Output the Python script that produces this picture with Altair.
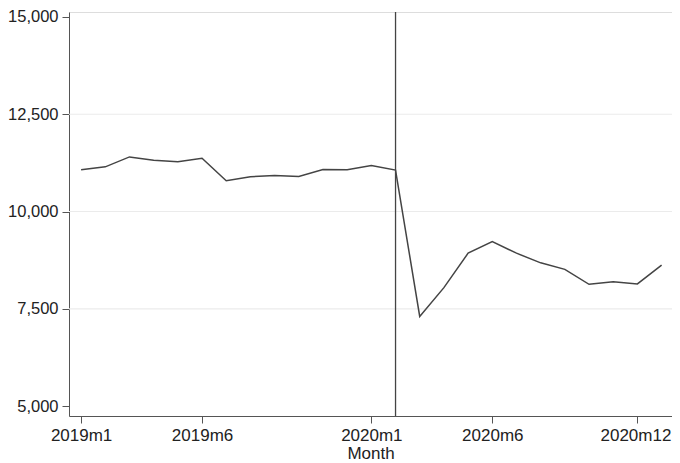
import altair as alt
import pandas as pd

months = ["2019m1", "2019m2", "2019m3", "2019m4", "2019m5", "2019m6", "2019m7",
          "2019m8", "2019m9", "2019m10", "2019m11", "2019m12", "2020m1", "2020m2",
          "2020m3", "2020m4", "2020m5", "2020m6", "2020m7", "2020m8", "2020m9",
          "2020m10", "2020m11", "2020m12", "2021m1"]
values = [11071, 11148, 11403, 11319, 11276, 11370, 10791, 10893, 10926, 10901,
          11079, 11071, 11181, 11064, 7304, 8043, 8929, 9227, 8929, 8681, 8513,
          8130, 8196, 8138, 8622]
tick_index = [0, 5, 12, 17, 23]
tick_labels = ["2019m1", "2019m6", "2020m1", "2020m6", "2020m12"]
y_ticks = [5000, 7500, 10000, 12500, 15000]
grid_values = [7500, 10000, 12500]
event_index = [13]

df = pd.DataFrame({"idx": list(range(len(months))), "month": months, "value": values})
grid_df = pd.DataFrame({"y": grid_values})
event_df = pd.DataFrame({"x": event_index})

label_map = "{" + ",".join(f'"{i}":"{l}"' for i, l in zip(tick_index, tick_labels)) + "}"

xscale = alt.Scale(domain=[-0.5, 24.43], nice=False, zero=False)
yscale = alt.Scale(domain=[4744, 15128], nice=False, zero=False)

FONT = "Liberation Sans"

xaxis = alt.Axis(values=tick_index, labelExpr=f"{label_map}[datum.value]",
                 title="Month", grid=False, tickSize=7, labelPadding=4,
                 labelFontSize=17, titleFontSize=17, labelFont=FONT, titleFont=FONT,
                 titleFontWeight="normal", labelColor="#222222", titleColor="#222222",
                 domainColor="#555555", tickColor="#555555", titlePadding=2,
                 labelFlush=False, labelBound=False,
                 labelOffset=alt.condition("datum.value == 23", alt.value(-2), alt.value(0)))
yaxis = alt.Axis(values=y_ticks, format=",d", title=None, grid=False, tickSize=7,
                 labelPadding=4, labelFontSize=16.5, labelFont=FONT,
                 labelColor="#222222", domainColor="#555555", tickColor="#555555")

grid = alt.Chart(grid_df).mark_rule(color="#ebebeb", strokeWidth=1.2).encode(
    y=alt.Y("y:Q", scale=yscale, axis=yaxis)
)

line = alt.Chart(df).mark_line(color="#444444", strokeWidth=1.5).encode(
    x=alt.X("idx:Q", scale=xscale, axis=xaxis),
    y=alt.Y("value:Q", scale=yscale, axis=yaxis),
)

event = alt.Chart(event_df).mark_rule(color="#444444", strokeWidth=1.3).encode(
    x=alt.X("x:Q", scale=xscale)
)

chart = alt.layer(grid, line, event).properties(
    width=603, height=404,
    autosize=alt.AutoSizeParams(type="none"),
    padding={"left": 61, "top": 4, "right": 0, "bottom": 47},
).configure_view(stroke=None).configure(background="white")

chart.save("out.html", embed_options={"renderer": "svg", "actions": False})
